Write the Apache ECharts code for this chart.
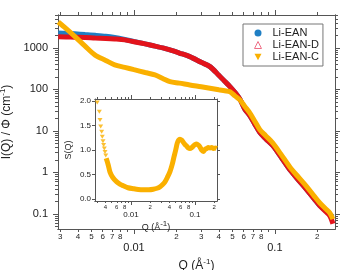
<!DOCTYPE html>
<html>
<head>
<meta charset="utf-8">
<script src="https://cdn.jsdelivr.net/npm/echarts@6/dist/echarts.min.js"></script>
<style>
  html, body { margin: 0; padding: 0; background: #fff; }
  #chart { width: 345px; height: 270px; }
</style>
</head>
<body>
<div id="chart"></div>
<script>
// main plot: I(Q)/phi vs Q, all three samples read on the same Q points
const qMain = [0.0029, 0.0033, 0.0038, 0.0045, 0.0053, 0.0063, 0.0073, 0.0086, 0.01, 0.012,
  0.0141, 0.016, 0.018, 0.021, 0.0249, 0.03, 0.0346, 0.04, 0.044, 0.048,
  0.052, 0.0565, 0.061, 0.0665, 0.072, 0.078, 0.086, 0.0968, 0.11, 0.1277,
  0.148, 0.1686, 0.19, 0.2085, 0.228, 0.2455, 0.258];
const iEAN = [2280, 2240, 2180, 2090, 2010, 1910, 1780, 1600, 1430, 1250,
  1100, 1000, 895, 753, 617, 450, 354, 220, 157, 117,
  85, 58, 34, 23, 14.6, 9.3, 6.5, 4.4, 2.4, 1.16,
  0.64, 0.38, 0.232, 0.157, 0.122, 0.098, 0.085];
const iEAND = [1850, 1840, 1810, 1780, 1730, 1690, 1640, 1560, 1410, 1250,
  1100, 1000, 895, 753, 617, 450, 354, 220, 157, 117,
  85, 58, 34, 23, 14.6, 9.3, 6.5, 4.4, 2.4, 1.16,
  0.64, 0.38, 0.232, 0.157, 0.116, 0.09, 0.058];
const iEANC = [4200, 2920, 1900, 1100, 670, 500, 389, 340, 299, 256,
  224, 184, 154, 142, 128, 116, 107, 98, 93, 88,
  70, 56, 39.5, 27, 17.2, 10.9, 7.7, 5.1, 2.8, 1.36,
  0.75, 0.45, 0.27, 0.184, 0.136, 0.106, 0.075];

// inset: S(Q) of Li-EAN-C, separate markers at low Q then a dense band
const qSDots = [0.00297, 0.0032, 0.00328, 0.00336, 0.00348, 0.00356, 0.00365, 0.00374, 0.00383, 0.00393, 0.00403];
const sSDots = [1.97, 1.78, 1.61, 1.48, 1.37, 1.27, 1.18, 1.10, 1.03, 0.96, 0.89];
const qSLine = [0.0041, 0.0044, 0.0047, 0.0052, 0.006, 0.0068, 0.0076, 0.009, 0.0109, 0.013,
  0.0156, 0.019, 0.0223, 0.0255, 0.0284, 0.031, 0.034, 0.037, 0.0407, 0.044,
  0.047, 0.05, 0.0529, 0.0555, 0.0583, 0.062, 0.0656, 0.07, 0.0741, 0.079,
  0.0836, 0.089, 0.094, 0.1, 0.106, 0.113, 0.12, 0.127, 0.135, 0.143,
  0.152, 0.162, 0.172, 0.182, 0.195, 0.208, 0.219];
const sSLine = [0.83, 0.70, 0.55, 0.44, 0.35, 0.30, 0.27, 0.23, 0.21, 0.195,
  0.19, 0.19, 0.20, 0.22, 0.25, 0.29, 0.35, 0.44, 0.56, 0.70,
  0.86, 1.0, 1.14, 1.20, 1.22, 1.20, 1.16, 1.11, 1.08, 1.04,
  1.03, 1.05, 1.08, 1.11, 1.12, 1.10, 1.06, 1.00, 0.97, 1.01,
  1.03, 1.05, 1.04, 1.05, 1.03, 1.04, 1.03];

// ticks and tick labels
const mainXMinor = [0.003, 0.004, 0.005, 0.006, 0.007, 0.008, 0.009,
  0.02, 0.03, 0.04, 0.05, 0.06, 0.07, 0.08, 0.09, 0.2];
const mainXMajor = [0.01, 0.1];
const mainXMinorLabelVals = [0.003, 0.004, 0.005, 0.006, 0.007, 0.008, 0.02, 0.03, 0.04, 0.05, 0.06, 0.07, 0.08, 0.2];
const mainXMinorLabels = ['3', '4', '5', '6', '7', '8', '2', '3', '4', '5', '6', '7', '8', '2'];
const mainXMajorLabels = ['0.01', '0.1'];

const mainYMinor = [0.05, 0.06, 0.07, 0.08, 0.09, 0.2, 0.3, 0.4, 0.5, 0.6, 0.7, 0.8, 0.9,
  2, 3, 4, 5, 6, 7, 8, 9, 20, 30, 40, 50, 60, 70, 80, 90,
  200, 300, 400, 500, 600, 700, 800, 900, 2000, 3000, 4000, 5000, 6000];
const mainYMajor = [0.1, 1, 10, 100, 1000];
const mainYMajorLabels = ['0.1', '1', '10', '100', '1000'];

const insetXMinor = [0.003, 0.004, 0.005, 0.006, 0.007, 0.008, 0.009,
  0.02, 0.03, 0.04, 0.05, 0.06, 0.07, 0.08, 0.09, 0.2];
const insetXMajor = [0.01, 0.1];
const insetXMinorLabelVals = [0.004, 0.006, 0.008, 0.02, 0.04, 0.06, 0.08, 0.2];
const insetXMinorLabels = ['4', '6', '8', '2', '4', '6', '8', '2'];
const insetXMajorLabels = ['0.01', '0.1'];
const insetYTicks = [0, 0.5, 1, 1.5, 2];
const insetYLabels = ['0.0', '0.5', '1.0', '1.5', '2.0'];

// axis ranges
const mainX = [0.00289, 0.267];
const mainY = [0.0435, 6200];
const insetX = [0.00274, 0.221];
const insetY = [-0.04, 2.04];

const BLUE = '#1f7fc4';
const RED = '#e3131b';
const ORANGE = '#fab000';
const AX = '#555';
const TXT = '#222';
const FONT = 'Liberation Sans, Arial, Helvetica, sans-serif';
const SUP = { sup: { fontSize: 8, fontFamily: FONT, color: TXT, padding: [0, 0, 7, 0] } };

const lg = v => Math.log10(v);

// a linear helper axis that only draws ticks/labels, laid over a log axis
function tickAxis(o) {
  const ax = {
    type: 'value', gridIndex: o.grid, position: o.pos,
    min: o.log ? lg(o.range[0]) : o.range[0],
    max: o.log ? lg(o.range[1]) : o.range[1],
    axisLine: { show: true, onZero: false, lineStyle: { color: AX, width: 1 } },
    axisTick: { show: true, customValues: o.log ? o.ticks.map(lg) : o.ticks, length: o.len,
      lineStyle: { color: AX, width: 1 } },
    axisLabel: { show: false },
    splitLine: { show: false }
  };
  if (o.labels) {
    const vals = o.log ? o.labelVals.map(lg) : o.labelVals;
    ax.axisLabel = {
      show: true, customValues: vals, margin: o.margin, fontSize: o.fontSize,
      fontFamily: FONT, color: TXT,
      formatter: v => {
        const k = vals.findIndex(t => Math.abs(t - v) < 1e-9);
        return k >= 0 ? o.labels[k] : '';
      }
    };
  }
  if (o.name) {
    Object.assign(ax, {
      name: o.name, nameLocation: 'middle', nameGap: o.nameGap, nameRotate: o.nameRotate,
      nameTextStyle: { fontSize: o.nameSize, fontFamily: FONT, color: TXT, rich: SUP }
    });
  }
  return ax;
}

const xAxes = [
  { type: 'log', gridIndex: 0, min: mainX[0], max: mainX[1], show: false },
  tickAxis({ grid: 0, pos: 'bottom', log: true, range: mainX, ticks: mainXMinor, len: 3,
    labelVals: mainXMinorLabelVals, labels: mainXMinorLabels, margin: 4, fontSize: 8 }),
  tickAxis({ grid: 0, pos: 'bottom', log: true, range: mainX, ticks: mainXMajor, len: 5,
    labelVals: mainXMajor, labels: mainXMajorLabels, margin: 13, fontSize: 11,
    name: 'Q (Å{sup|-1})', nameGap: 27, nameSize: 12 }),
  tickAxis({ grid: 0, pos: 'top', log: true, range: mainX, ticks: mainXMinor, len: 3 }),
  tickAxis({ grid: 0, pos: 'top', log: true, range: mainX, ticks: mainXMajor, len: 5 }),
  { type: 'log', gridIndex: 1, min: insetX[0], max: insetX[1], show: false },
  tickAxis({ grid: 1, pos: 'bottom', log: true, range: insetX, ticks: insetXMinor, len: 2,
    labelVals: insetXMinorLabelVals, labels: insetXMinorLabels, margin: 3, fontSize: 6 }),
  tickAxis({ grid: 1, pos: 'bottom', log: true, range: insetX, ticks: insetXMajor, len: 4,
    labelVals: insetXMajor, labels: insetXMajorLabels, margin: 10, fontSize: 8,
    name: 'Q (Å{sup|-1})', nameGap: 18, nameSize: 9 }),
  tickAxis({ grid: 1, pos: 'top', log: true, range: insetX, ticks: insetXMinor, len: 2 }),
  tickAxis({ grid: 1, pos: 'top', log: true, range: insetX, ticks: insetXMajor, len: 4 })
];

const yAxes = [
  { type: 'log', gridIndex: 0, min: mainY[0], max: mainY[1], show: false },
  tickAxis({ grid: 0, pos: 'left', log: true, range: mainY, ticks: mainYMinor, len: 3 }),
  tickAxis({ grid: 0, pos: 'left', log: true, range: mainY, ticks: mainYMajor, len: 5,
    labelVals: mainYMajor, labels: mainYMajorLabels, margin: 10, fontSize: 11,
    name: 'I(Q) / Φ (cm{sup|-1})', nameGap: 33, nameRotate: 90, nameSize: 12 }),
  tickAxis({ grid: 0, pos: 'right', log: true, range: mainY, ticks: mainYMinor, len: 3 }),
  tickAxis({ grid: 0, pos: 'right', log: true, range: mainY, ticks: mainYMajor, len: 5 }),
  tickAxis({ grid: 1, pos: 'left', log: false, range: insetY, ticks: insetYTicks, len: 3,
    labelVals: insetYTicks, labels: insetYLabels, margin: 4, fontSize: 8,
    name: 'S(Q)', nameGap: 22, nameRotate: 90, nameSize: 9 }),
  tickAxis({ grid: 1, pos: 'right', log: false, range: insetY, ticks: insetYTicks, len: 3 })
];

function mainLine(name, ys, color) {
  return {
    name, type: 'line', xAxisIndex: 0, yAxisIndex: 0,
    data: qMain.map((q, i) => [q, ys[i]]),
    showSymbol: false, smooth: 0.3,
    lineStyle: { color, width: 5 }, itemStyle: { color },
    emphasis: { disabled: true }, animation: false
  };
}

const chart = echarts.init(document.getElementById('chart'), null, { renderer: 'canvas' });
chart.setOption({
  animation: false,
  grid: [
    { left: 58, top: 15, width: 277, height: 214, outerBoundsMode: 'none' },
    { left: 95, top: 99, width: 122, height: 102, show: true, backgroundColor: '#fff',
      borderWidth: 0, outerBoundsMode: 'none' }
  ],
  xAxis: xAxes,
  yAxis: yAxes,
  legend: {
    left: 243, top: 24, orient: 'vertical',
    borderColor: '#777', borderWidth: 1, padding: [3, 4, 3, 11],
    itemWidth: 7, itemHeight: 7, itemGap: 0,
    textStyle: { fontSize: 11, fontFamily: FONT, color: TXT, lineHeight: 12, padding: [0, 0, 0, 6] },
    data: [
      { name: 'Li-EAN', icon: 'circle', itemStyle: { color: BLUE } },
      { name: 'Li-EAN-D', icon: 'triangle', itemStyle: { color: '#fff', borderColor: '#ee6f86', borderWidth: 1 } },
      { name: 'Li-EAN-C', icon: 'path://M0,0L10,0L5,9Z', itemStyle: { color: ORANGE } }
    ]
  },
  series: [
    mainLine('Li-EAN', iEAN, BLUE),
    mainLine('Li-EAN-D', iEAND, RED),
    mainLine('Li-EAN-C', iEANC, ORANGE),
    {
      name: 'S(Q) dots', type: 'scatter', xAxisIndex: 5, yAxisIndex: 5,
      data: qSDots.map((q, i) => [q, sSDots[i]]),
      symbol: 'triangle', symbolRotate: 180, symbolSize: [5, 4],
      itemStyle: { color: ORANGE }, z: 5
    },
    {
      name: 'S(Q)', type: 'line', xAxisIndex: 5, yAxisIndex: 5,
      data: qSLine.map((q, i) => [q, sSLine[i]]),
      showSymbol: false, smooth: 0.3,
      lineStyle: { color: ORANGE, width: 5 }, z: 5
    }
  ]
});
</script>
</body>
</html>
